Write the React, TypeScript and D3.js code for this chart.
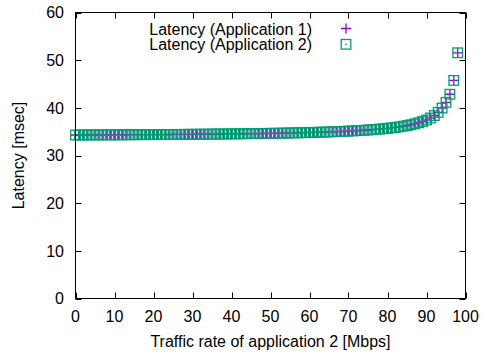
import React from "react";
import * as d3 from "d3";

const trafficRates: number[] = d3.range(0, 99);

const latencyApp1: number[] = [
  34.30, 34.30, 34.31, 34.31, 34.31, 34.32, 34.32, 34.33, 34.33, 34.33,
  34.34, 34.34, 34.35, 34.35, 34.36, 34.36, 34.37, 34.37, 34.38, 34.38,
  34.39, 34.39, 34.40, 34.40, 34.41, 34.42, 34.42, 34.43, 34.44, 34.44,
  34.45, 34.46, 34.46, 34.47, 34.48, 34.49, 34.50, 34.51, 34.51, 34.52,
  34.53, 34.54, 34.55, 34.56, 34.58, 34.59, 34.60, 34.61, 34.62, 34.64,
  34.65, 34.66, 34.68, 34.69, 34.71, 34.73, 34.75, 34.76, 34.78, 34.80,
  34.83, 34.85, 34.87, 34.90, 34.92, 34.95, 34.98, 35.01, 35.04, 35.08,
  35.12, 35.16, 35.20, 35.25, 35.30, 35.35, 35.41, 35.47, 35.54, 35.62,
  35.70, 35.79, 35.89, 36.01, 36.14, 36.28, 36.45, 36.64, 36.87, 37.13,
  37.45, 37.86, 38.38, 39.05, 39.95, 41.15, 42.85, 45.75, 51.55,
];

const latencyApp2: number[] = [
  34.30, 34.30, 34.31, 34.31, 34.31, 34.32, 34.32, 34.33, 34.33, 34.33,
  34.34, 34.34, 34.35, 34.35, 34.36, 34.36, 34.37, 34.37, 34.38, 34.38,
  34.39, 34.39, 34.40, 34.40, 34.41, 34.42, 34.42, 34.43, 34.44, 34.44,
  34.45, 34.46, 34.46, 34.47, 34.48, 34.49, 34.50, 34.51, 34.51, 34.52,
  34.53, 34.54, 34.55, 34.56, 34.58, 34.59, 34.60, 34.61, 34.62, 34.64,
  34.65, 34.66, 34.68, 34.69, 34.71, 34.73, 34.75, 34.76, 34.78, 34.80,
  34.83, 34.85, 34.87, 34.90, 34.92, 34.95, 34.98, 35.01, 35.04, 35.08,
  35.12, 35.16, 35.20, 35.25, 35.30, 35.35, 35.41, 35.47, 35.54, 35.62,
  35.70, 35.79, 35.89, 36.01, 36.14, 36.28, 36.45, 36.64, 36.87, 37.13,
  37.45, 37.86, 38.38, 39.05, 39.95, 41.15, 42.85, 45.75, 51.55,
];

const xTicks: number[] = [0, 10, 20, 30, 40, 50, 60, 70, 80, 90, 100];
const yTicks: number[] = [0, 10, 20, 30, 40, 50, 60];
const seriesNames: string[] = ["Latency (Application 1)", "Latency (Application 2)"];
const xTitle = "Traffic rate of application 2 [Mbps]";
const yTitle = "Latency [msec]";

const W = 485;
const H = 358;
const FONT = "'Liberation Sans', Arial, Helvetica, sans-serif";
const PURPLE = "#9400d3";
const GREEN = "#009e73";

const x = d3.scaleLinear().domain([0, 100]).range([75.5, 465.5]);
const y = d3.scaleLinear().domain([0, 60]).range([298.5, 12.5]);

const TICK = 6;

function Plus({ cx, cy }: { cx: number; cy: number }) {
  const s = 5;
  return (
    <path
      d={`M${cx - s},${cy}H${cx + s}M${cx},${cy - s}V${cy + s}`}
      stroke={PURPLE}
      strokeWidth={1.3}
      fill="none"
    />
  );
}

function Square({ cx, cy }: { cx: number; cy: number }) {
  const s = 4.8;
  return (
    <g>
      <rect x={cx - s} y={cy - s} width={2 * s} height={2 * s} stroke={GREEN} strokeWidth={1.3} fill="none" />
      <rect x={cx - 0.7} y={cy - 0.7} width={1.4} height={1.4} fill={GREEN} />
    </g>
  );
}

export default function App() {
  const [x0, x1] = x.range();
  const [y0, y1] = y.range();
  return (
    <svg
      width={W}
      height={H}
      viewBox={`0 0 ${W} ${H}`}
      style={{ position: "absolute", left: 0, top: 0, background: "#fff" }}
      fontFamily={FONT}
    >
      {/* ticks */}
      <g stroke="#000" strokeWidth={1}>
        {xTicks.map((t) => (
          <g key={"xt" + t}>
            <line x1={Math.round(x(t)) + 0.5} x2={Math.round(x(t)) + 0.5} y1={y0} y2={y0 - TICK} />
            <line x1={Math.round(x(t)) + 0.5} x2={Math.round(x(t)) + 0.5} y1={y1} y2={y1 + TICK} />
          </g>
        ))}
        {yTicks.map((t) => (
          <g key={"yt" + t}>
            <line x1={x0} x2={x0 + TICK} y1={Math.round(y(t)) + 0.5} y2={Math.round(y(t)) + 0.5} />
            <line x1={x1} x2={x1 - TICK} y1={Math.round(y(t)) + 0.5} y2={Math.round(y(t)) + 0.5} />
          </g>
        ))}
      </g>
      {/* tick labels */}
      <g fontSize={16} fill="#000">
        {xTicks.map((t) => (
          <text key={"xl" + t} x={x(t)} y={322} textAnchor="middle">
            {t}
          </text>
        ))}
        {yTicks.map((t) => (
          <text key={"yl" + t} x={64} y={y(t)} dy="0.36em" textAnchor="end">
            {t}
          </text>
        ))}
      </g>
      {/* axis titles */}
      <text x={(x0 + x1) / 2} y={347} fontSize={16} textAnchor="middle" fill="#000">
        {xTitle}
      </text>
      <text
        transform={`translate(24,${(y0 + y1) / 2}) rotate(-90)`}
        fontSize={16}
        textAnchor="middle"
        fill="#000"
      >
        {yTitle}
      </text>
      {/* data */}
      <g>
        {trafficRates.map((r, i) => (
          <Plus key={"p" + i} cx={x(r)} cy={y(latencyApp1[i])} />
        ))}
      </g>
      <g>
        {trafficRates.map((r, i) => (
          <Square key={"s" + i} cx={x(r)} cy={y(latencyApp2[i])} />
        ))}
      </g>
      {/* frame */}
      <rect x={x0} y={y1} width={x1 - x0} height={y0 - y1} fill="none" stroke="#000" strokeWidth={1} />
      {/* legend */}
      <g fontSize={16} fill="#000">
        <text x={312} y={34.5} textAnchor="end">
          {seriesNames[0]}
        </text>
        <text x={312} y={49.5} textAnchor="end">
          {seriesNames[1]}
        </text>
      </g>
      <Plus cx={346} cy={28.5} />
      <Square cx={346} cy={44.3} />
    </svg>
  );
}
